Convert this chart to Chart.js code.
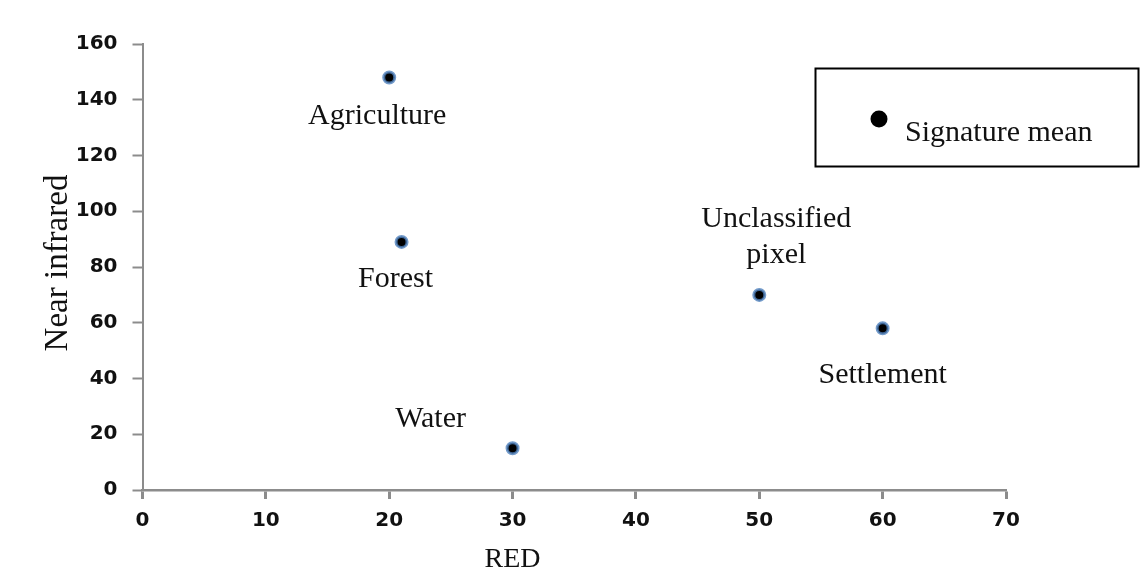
<!DOCTYPE html>
<html>
<head>
<meta charset="utf-8">
<script src="https://cdn.jsdelivr.net/npm/chart.js@4"></script>
<style>
  html, body { margin: 0; padding: 0; background: #ffffff; }
  #wrap { width: 1140px; height: 572px; position: relative; }
  canvas { display: block; }
</style>
</head>
<body>
<div id="wrap"><canvas id="c" width="1140" height="572"></canvas></div>
<script>
// ---- data ----
const categories = ['Agriculture', 'Forest', 'Water', 'Unclassified\npixel', 'Settlement'];
const redValues = [20, 21, 30, 50, 60];
const nirValues = [148, 89, 15, 70, 58];
const xTickValues = [0, 10, 20, 30, 40, 50, 60, 70];
const yTickValues = [0, 20, 40, 60, 80, 100, 120, 140, 160];
const xAxisTitle = 'RED';
const yAxisTitle = 'Near infrared';
const legendLabel = 'Signature mean';

// ---- label placement (pixels relative to each point: centre x, first baseline y) ----
const labelOffsets = [[-12, 47], [-6, 45], [-82, -21], [17, -68], [0, 55]];

const serif = '"Liberation Serif", "Times New Roman", serif';

const annotatePlugin = {
  id: 'annotate',
  afterDraw(chart) {
    const ctx = chart.ctx;
    const xs = chart.scales.x, ys = chart.scales.y;
    ctx.save();
    ctx.fillStyle = '#111';
    ctx.font = '30px ' + serif;
    ctx.textAlign = 'center';
    ctx.textBaseline = 'alphabetic';
    categories.forEach((name, i) => {
      const px = xs.getPixelForValue(redValues[i]);
      const py = ys.getPixelForValue(nirValues[i]);
      const [dx, dy] = labelOffsets[i];
      name.split('\n').forEach((line, k) => {
        ctx.fillText(line, px + dx, py + dy + k * 36);
      });
    });

    // axis titles
    ctx.font = '28px ' + serif;
    ctx.fillText(xAxisTitle, xs.getPixelForValue(30), 567);
    ctx.save();
    ctx.translate(67, (ys.top + ys.bottom) / 2 - 4);
    ctx.rotate(-Math.PI / 2);
    ctx.font = '33px ' + serif;
    ctx.fillText(yAxisTitle, 0, 0);
    ctx.restore();

    // legend box
    ctx.lineWidth = 2;
    ctx.strokeStyle = '#000';
    ctx.strokeRect(815.5, 68.5, 323, 98);
    ctx.beginPath();
    ctx.fillStyle = '#000';
    ctx.arc(879, 119, 8.5, 0, Math.PI * 2);
    ctx.fill();
    ctx.textAlign = 'left';
    ctx.font = '30px ' + serif;
    ctx.fillStyle = '#111';
    ctx.fillText(legendLabel, 905, 141);
    ctx.restore();
  }
};

const tickFont = { family: '"DejaVu Sans", Verdana, sans-serif', size: 20, weight: 'bold' };

new Chart(document.getElementById('c'), {
  type: 'scatter',
  data: {
    datasets: [{
      label: legendLabel,
      data: redValues.map((v, i) => ({ x: v, y: nirValues[i] })),
      pointRadius: 5.5,
      pointHoverRadius: 5.5,
      pointBackgroundColor: '#000000',
      pointBorderColor: 'rgba(79,129,189,0.8)',
      pointBorderWidth: 3
    }]
  },
  options: {
    responsive: false,
    animation: false,
    events: [],
    layout: { padding: { left: 0, right: 134, top: 44, bottom: 0 } },
    plugins: { legend: { display: false }, tooltip: { enabled: false } },
    scales: {
      x: {
        type: 'linear',
        min: 0, max: 70,
        afterBuildTicks: s => { s.ticks = xTickValues.map(v => ({ value: v })); },
        afterFit: s => { s.height = 82; },
        grid: { display: true, drawOnChartArea: false, drawTicks: true, tickLength: 9, tickWidth: 3, tickColor: '#8c8c8c' },
        border: { display: true, color: '#8c8c8c', width: 2.5 },
        ticks: { font: tickFont, color: '#111', padding: 10, maxRotation: 0 }
      },
      y: {
        type: 'linear',
        min: 0, max: 160,
        afterBuildTicks: s => { s.ticks = yTickValues.map(v => ({ value: v })); },
        afterFit: s => { s.width = 142.5; },
        grid: { display: true, drawOnChartArea: false, drawTicks: true, tickLength: 10, tickWidth: 2, tickColor: '#8c8c8c' },
        border: { display: true, color: '#8c8c8c', width: 2 },
        ticks: { font: tickFont, color: '#111', padding: 15 }
      }
    }
  },
  plugins: [annotatePlugin]
});
</script>
</body>
</html>
